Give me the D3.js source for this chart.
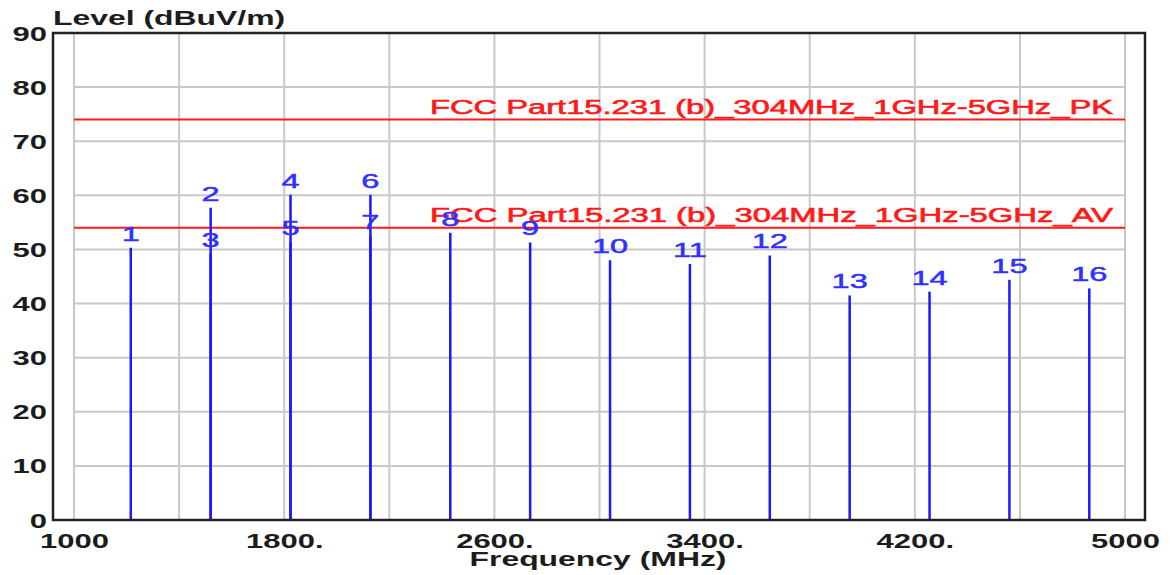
<!DOCTYPE html>
<html lang="en">
<head>
    <meta charset="UTF-8">
    <title>Level vs Frequency</title>
    <script src="https://d3js.org/d3.v7.min.js"></script>
    <style>
        body {margin: 0; background: white}
        text {font-family: 'Liberation Sans', Arial, sans-serif}
        .axis text {font-weight: bold; font-size: 20px; fill: #1c1c1c}
        .title {font-weight: bold; font-size: 21px; fill: #1c1c1c}
        .grid line {stroke: #c8c8c8; stroke-width: 2}
        .marker line {stroke: #1a1aff; stroke-width: 2.5}
        .marker text {font-size: 21px; fill: #3030ff; stroke: #3030ff; stroke-width: .5}
        .limit line {stroke: #ff1a1a; stroke-width: 2}
        .limit text {font-size: 20px; fill: #ff1a1a; stroke: #ff1a1a; stroke-width: .6}
    </style>
</head>
<body>
<script>
    const width  = 1172;
    const height = 575;

    // markers (MHz, dBuV/m)
    const markerNo   = d3.range(1, 17);
    const markerFreq = [1216, 1520, 1520, 1824, 1824, 2128, 2128, 2432,
                        2736, 3040, 3344, 3648, 3952, 4256, 4560, 4864];
    const markerLvl  = [50.3, 57.7, 49.2, 60.1, 51.3, 60.1, 52.4, 53.1,
                        51.3, 48.0, 47.3, 48.9, 41.5, 42.2, 44.4, 42.8];

    const limitNames = ["FCC Part15.231 (b)_304MHz_1GHz-5GHz_PK",
                        "FCC Part15.231 (b)_304MHz_1GHz-5GHz_AV"];
    const limitLvl   = [74, 54];

    const xTicks      = [1000, 1800, 2600, 3400, 4200, 5000];
    const xTickLabels = ["1000", "1800.", "2600.", "3400.", "4200.", "5000"];
    const xGrid       = d3.range(1000, 5001, 400);
    const yTicks      = d3.range(0, 91, 10);

    const plot = {left: 53, right: 1145, top: 33, bottom: 520};
    const sx = 1.55; // the original picture is stretched sideways

    const x = d3.scaleLinear().domain([920, 5076]).range([plot.left, plot.right]);
    const y = d3.scaleLinear().domain([0, 90]).range([plot.bottom, plot.top]);

    const svg = d3.select("body").append("svg")
            .attr("width", width).attr("height", height);

    // grid, only between 1000 and 5000 MHz
    const grid = svg.append("g").attr("class", "grid");
    grid.selectAll("line.v").data(xGrid).join("line").attr("class", "v")
            .attr("x1", x).attr("x2", x)
            .attr("y1", plot.top).attr("y2", plot.bottom);
    grid.selectAll("line.h").data(yTicks.slice(1, -1)).join("line").attr("class", "h")
            .attr("x1", x(1000)).attr("x2", x(5000))
            .attr("y1", y).attr("y2", y);

    // limit lines
    const limit = svg.selectAll("g.limit").data(limitLvl).join("g").attr("class", "limit");
    limit.append("line")
            .attr("x1", x(1000)).attr("x2", x(5000))
            .attr("y1", d => y(d)).attr("y2", d => y(d));
    limit.append("text")
            .attr("x", 430).attr("y", d => y(d) - 6)
            .attr("textLength", 683).attr("lengthAdjust", "spacingAndGlyphs")
            .text((d, i) => limitNames[i]);

    // marker lines
    const marker = svg.selectAll("g.marker").data(markerNo).join("g").attr("class", "marker");
    marker.append("line")
            .attr("x1", (d, i) => x(markerFreq[i])).attr("x2", (d, i) => x(markerFreq[i]))
            .attr("y1", y(0)).attr("y2", (d, i) => y(markerLvl[i]));
    marker.append("text")
            .attr("text-anchor", "middle")
            .attr("transform", (d, i) =>
                `translate(${x(markerFreq[i])},${y(markerLvl[i]) - 7}) scale(${sx},1)`)
            .text(d => d);

    // frame
    svg.append("rect")
            .attr("x", plot.left).attr("y", plot.top)
            .attr("width", plot.right - plot.left).attr("height", plot.bottom - plot.top)
            .attr("fill", "none").attr("stroke", "#222").attr("stroke-width", 2.5);

    // axes: labels only, lines come from the frame
    const xAxis = d3.axisBottom(x).tickValues(xTicks)
            .tickFormat((d, i) => xTickLabels[i]).tickSize(0).tickSizeOuter(0);
    const gx = svg.append("g").attr("class", "axis")
            .attr("transform", `translate(0,${plot.bottom})`).call(xAxis);
    gx.select(".domain").remove();
    gx.selectAll(".tick text").attr("y", 0).attr("dy", null)
            .attr("transform", `translate(0,28) scale(${sx},1)`);

    const yAxis = d3.axisLeft(y).tickValues(yTicks).tickSize(0).tickSizeOuter(0);
    const gy = svg.append("g").attr("class", "axis")
            .attr("transform", `translate(${plot.left - 6},0)`).call(yAxis);
    gy.select(".domain").remove();
    gy.selectAll(".tick text").attr("x", 0).attr("dy", null)
            .attr("transform", `translate(0,7) scale(${sx},1)`);

    // axis titles
    svg.append("text").attr("class", "title")
            .attr("transform", `translate(${plot.left},25) scale(1.52,1)`)
            .text("Level (dBuV/m)");
    svg.append("text").attr("class", "title").attr("text-anchor", "middle")
            .attr("transform", `translate(598,566) scale(1.52,1)`)
            .text("Frequency (MHz)");
</script>
</body>
</html>
